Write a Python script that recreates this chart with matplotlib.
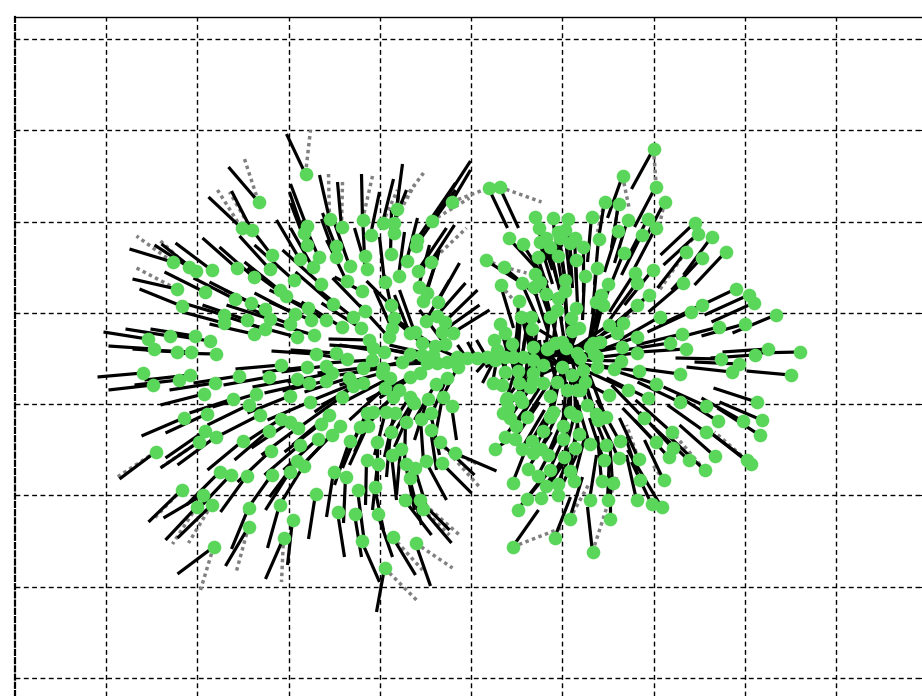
import matplotlib
matplotlib.use("Agg")
import matplotlib.pyplot as plt
from matplotlib.collections import LineCollection

# --- Input data (image pixels) ------------------------------------------
grid_x = [106, 197, 289, 380, 471, 562, 654, 745, 836]
grid_y = [39, 130, 222, 313, 404, 495, 587, 678]

# each row: node x, node y, end of its black edge x, y
upper_left = [
    (259,202,229,167),(306,174,287,134),(242,228,209,197),(252,230,232,191),(272,255,249,225),
    (270,269,240,236),(330,219,320,175),(342,227,338,182),(363,220,362,174),(383,223,394,179),
    (397,209,403,164),(394,223,407,190),(394,233,399,195),(371,235,380,192),(307,226,291,184),
    (304,233,290,192),(307,245,291,203),(336,246,323,213),(336,257,322,219),(319,257,303,220),
    (300,259,277,220),(313,267,291,228),(365,256,363,215),(367,269,355,228),(350,266,335,223),
    (391,254,392,210),(407,261,418,218),(417,240,456,183),(416,246,456,190),(432,221,471,161),
    (452,202,471,170),(431,262,455,225),(418,271,447,228),(399,276,405,232),(385,282,380,237),
    (347,281,327,240),(294,280,255,245),(321,284,283,250),(362,291,335,277),(333,304,296,272),
    (280,290,245,262),(286,296,248,268),(254,277,220,247),(237,268,203,238),(212,270,176,243),
    (196,271,162,244),(189,267,155,245),(173,262,130,249),(177,289,133,279),(205,292,165,272),
    (182,306,140,289),(235,299,194,278),(251,303,210,282),(265,309,225,290),(270,319,227,305),
    (265,329,222,315),(224,315,180,302),(224,323,183,312),(247,320,203,305),(254,334,210,324),
    (295,314,255,293),(308,308,270,290),(311,320,270,302),(326,320,286,298),(290,324,248,308),
    (297,337,252,325),(314,335,270,322),(342,327,302,302),(353,317,318,289),(365,311,333,278),
    (361,328,322,303),(391,305,367,281),(394,318,385,275),(392,328,375,290),(389,337,360,305),
    (410,333,395,295),(415,332,400,290),(419,287,430,245),(427,293,440,250),(423,301,438,258),
    (438,302,460,263),(426,321,450,280),(437,316,466,283),(445,322,478,290),(442,332,480,305),
    (453,333,490,310),(422,343,395,320),(435,346,400,322),(445,344,420,310),(369,340,329,339),
    (373,348,330,345),(384,352,340,345),(410,354,367,345),(316,354,272,351),(336,353,291,350),
    (347,359,302,352),
]
lower_left = [
    (372,360,327,363),(363,368,318,373),(383,368,340,375),(382,373,340,385),(402,362,357,372),
    (420,373,380,398),(410,377,367,400),(148,339,104,332),(170,336,126,329),(195,336,151,329),
    (210,341,166,334),(154,349,109,346),(177,352,133,349),(191,352,147,350),(216,354,172,353),
    (143,373,98,377),(153,385,109,390),(179,380,135,385),(190,375,145,380),(215,383,170,390),
    (239,376,194,383),(269,377,224,385),(281,365,236,369),(307,367,263,372),(326,366,282,372),
    (332,373,288,382),(297,379,253,387),(309,383,265,393),(326,381,283,391),(349,378,305,392),
    (353,384,311,401),(363,383,322,405),(390,378,348,400),(436,384,415,420),(447,378,430,420),
    (204,394,161,405),(233,399,190,413),(256,394,213,407),(290,396,248,413),(310,402,268,420),
    (249,405,208,425),(184,418,142,436),(207,414,166,433),(260,415,219,436),(342,397,303,425),
    (353,386,315,412),(385,388,350,420),(399,390,368,425),(393,397,358,430),(410,397,385,436),
    (414,403,395,447),(428,399,415,440),(443,397,435,440),(452,406,457,440),(329,415,293,445),
    (321,424,285,452),(340,426,308,460),(332,435,300,468),(318,439,284,470),(300,445,265,475),
    (281,419,243,444),(290,422,252,448),(298,428,262,455),(269,431,235,460),(243,441,208,470),
    (271,451,238,482),(205,431,166,458),(216,437,178,465),(199,442,161,468),(156,452,120,479),
    (220,472,187,505),(231,475,198,510),(247,476,221,512),(272,475,245,513),(290,472,266,510),
    (297,461,270,497),(304,466,280,505),(182,490,149,522),(203,495,164,518),(197,507,166,540),
    (212,505,178,538),(249,508,232,549),(249,527,226,566),(214,547,178,574),(280,505,268,548),
    (284,538,266,579),(293,520,288,565),(316,494,309,539),(334,472,327,517),(346,477,344,523),
    (338,512,345,557),(358,490,365,543),(355,514,362,557),(362,541,380,582),(378,514,393,557),
    (375,487,384,530),(367,460,366,505),(378,464,373,510),(350,441,335,485),(360,427,343,468),
    (368,426,350,465),(367,413,348,455),(373,412,355,452),(386,412,375,455),(395,413,385,457),
    (406,422,405,465),(391,432,387,477),(421,419,424,462),(431,413,440,455),(431,430,437,470),
    (377,442,377,487),(401,449,397,495),(392,455,397,500),(406,464,415,510),(415,468,428,510),
    (426,461,447,500),(410,478,422,525),(440,442,475,475),(455,453,497,471),(442,463,472,493),
    (405,500,432,535),(420,500,450,530),(423,509,452,543),(393,537,416,575),(416,543,431,586),
    (385,568,377,612),
]
center = [
    (422,355,380,348),(433,355,390,345),(427,363,385,365),(437,363,395,358),(447,362,405,352),
    (458,367,440,403),(457,357,418,340),(467,358,458,345),(477,358,468,342),(487,357,477,340),
    (495,360,483,383),(497,350,477,372),(505,357,486,367),(513,357,520,320),(523,357,528,318),
    (533,360,522,315),(505,372,510,330),(543,365,525,325),(562,367,535,340),(507,398,520,358),
    (518,371,518,330),(577,353,540,330),(572,375,535,350),(577,390,560,350),(522,402,528,360),
    (519,397,522,353),(533,380,535,338),(583,370,550,340),(597,357,555,352),(597,367,558,360),
    (413,402,390,440),(532,329,533,360),(548,348,525,385),
]
upper_right = [
    (654,149,632,189),(623,176,608,218),(656,187,635,227),(665,202,645,240),(605,202,598,245),
    (619,204,612,248),(489,188,508,228),(500,187,519,228),(535,217,548,260),(553,218,560,262),
    (568,219,572,264),(592,217,588,262),(539,228,553,270),(648,219,628,258),(628,220,615,263),
    (656,228,635,268),(642,235,622,275),(618,231,605,272),(599,239,595,285),(558,232,565,277),
    (565,230,570,275),(560,238,566,283),(575,238,577,283),(570,243,573,288),(583,247,583,292),
    (509,238,540,272),(523,244,548,283),(546,238,558,282),(540,242,553,284),(550,247,560,290),
    (624,253,607,295),(558,256,565,300),(538,257,552,300),(576,260,578,305),(486,260,525,285),
    (504,267,538,296),(597,268,593,313),(653,270,625,305),(635,273,610,312),(637,283,610,320),
    (683,283,649,312),(695,223,661,255),(698,234,664,265),(712,237,684,275),(726,252,695,285),
    (702,258,672,290),(686,252,658,288),(535,274,550,316),(522,283,540,323),(540,282,553,322),
    (534,287,548,330),(501,285,514,328),(565,280,568,325),(565,291,568,335),(585,276,583,320),
    (608,284,595,328),(546,294,557,337),(558,298,565,342),(519,301,517,345),(601,295,592,338),
    (596,302,589,345),(603,305,593,345),(649,295,615,325),(637,305,602,335),(576,308,570,352),
    (557,310,553,350),(550,317,545,360),(571,318,566,360),(521,317,518,360),(531,317,530,360),
    (500,324,510,360),(505,333,515,372),(736,289,692,310),(749,295,705,315),
    (754,303,712,322),(776,315,733,333),(702,305,660,325),(691,312,648,332),(660,317,620,340),
    (745,324,702,336),(719,327,677,338),(682,334,637,345),(670,343,625,350),(623,323,585,345),
    (609,325,572,350),(617,333,575,352),(637,337,595,352),(622,347,578,355),(637,353,592,358),
    (686,349,640,352),(579,328,565,365),(572,331,560,372),(600,342,555,352),(593,343,548,352),
    (590,347,547,358),(566,348,530,370),(562,342,525,372),(555,343,530,380),(547,349,528,388),
    (533,347,530,390),(494,340,510,380),(512,344,520,388),(768,349,723,352),
    (800,352,755,353),(755,355,711,358),(721,359,676,358),(739,364,695,362),
]
lower_right = [
    (580,358,540,375),(621,361,577,360),(594,354,550,365),(791,375,747,371),(732,372,687,367),
    (680,374,636,368),(656,384,613,370),(639,371,595,365),(614,369,570,362),(628,390,585,370),
    (648,398,607,378),(609,395,570,375),(680,402,638,382),(706,406,664,387),(718,421,677,395),
    (743,421,702,398),(757,402,714,388),(762,420,720,402),(760,435,718,408),(644,418,612,385),
    (672,432,636,400),(656,442,623,408),(706,432,668,405),(715,456,680,425),(747,460,710,432),
    (751,464,714,435),(673,448,640,412),(669,457,635,420),(689,460,652,425),(705,470,668,435),
    (639,459,620,418),(620,441,597,400),(619,458,600,418),(606,445,590,405),(604,460,590,418),
    (590,444,577,400),(664,480,645,440),(640,480,626,437),(613,483,610,440),(602,481,598,436),
    (590,500,597,455),(608,500,610,455),(637,500,627,455),(652,504,632,462),(662,507,628,450),
    (610,519,610,475),(593,552,588,507),(555,538,571,497),(513,547,539,510),(518,510,545,475),
    (570,519,583,477),(527,499,555,465),(541,498,566,460),(558,495,577,455),(546,486,570,448),
    (558,484,575,445),(574,481,585,438),(570,471,577,428),(513,483,528,445),(528,469,552,432),
    (538,476,558,438),(550,470,568,430),(564,457,575,415),(575,448,580,405),(563,439,570,395),
    (579,434,575,390),(563,426,567,382),(548,455,565,415),(541,449,560,410),(533,453,552,415),
    (532,441,555,402),(522,449,545,410),(515,439,540,402),(505,437,532,400),(495,449,517,435),
    (543,431,557,390),(527,417,550,382),(516,426,540,388),(506,400,530,368),(508,408,533,372),
    (503,413,530,378),(510,418,535,382),(550,396,560,355),
    (553,412,562,370),(550,417,558,375),(570,412,570,368),(576,416,575,372),(587,405,578,362),
    (596,414,582,370),(606,417,590,375),(598,420,583,378),(567,390,560,348),(580,390,570,350),
    (585,382,572,342),(557,382,545,340),(533,373,537,330),(519,383,525,340),
    (530,387,530,342),(543,383,540,340),(493,383,500,345),(502,385,508,342),
]

# visible dotted grey edges: x0, y0, x1, y1
grey_left = [
    (259,202,245,159),(306,174,311,130),(242,228,218,190),(252,230,230,192),(173,262,137,236),
    (189,267,160,240),(177,289,137,268),(330,219,329,174),(342,227,343,182),(363,220,373,176),
    (383,223,398,190),(397,209,424,173),(394,223,415,185),(452,202,489,188),(432,221,470,198),
    (431,262,467,228),(156,452,118,477),(199,442,162,467),(182,490,155,518),(197,507,173,544),
    (212,505,189,543),(249,527,237,571),(214,547,201,590),(284,538,282,582),(385,568,417,600),
    (416,543,453,568),(393,537,423,570),(420,500,460,535),(423,509,450,535),(455,453,480,465),
    (440,442,480,487),
]
grey_right = [
    (500,187,542,202),(654,149,657,190),(623,176,630,210),(665,202,660,225),(619,204,612,250),
    (605,202,598,232),(698,234,680,253),(686,252,660,290),(504,267,527,273),(486,260,504,267),
    (501,285,520,307),(649,295,625,320),(513,547,562,528),(570,519,590,483),(593,552,617,477),
    (664,480,652,463),(639,459,627,425),(705,470,677,437),(747,460,715,432),
]

# --- Draw ---------------------------------------------------------------
edges = upper_left + lower_left + center + upper_right + lower_right
node_x = [row[0] for row in edges]
node_y = [row[1] for row in edges]
black_segments = [[(row[0], row[1]), (row[2], row[3])] for row in edges]
grey_segments = [[(row[0], row[1]), (row[2], row[3])] for row in grey_left + grey_right]

fig = plt.figure(figsize=(9.22, 6.96), dpi=100)
ax = fig.add_axes([15 / 922, 0, 907 / 922, 679 / 696])
ax.set_xlim(15.5, 922.5)
ax.set_ylim(696, 17)

ax.set_xticks(grid_x)
ax.set_yticks(grid_y)
ax.grid(True, color="black", linestyle=(0, (3.5, 2.5)), linewidth=1.0)
ax.set_axisbelow(True)
ax.tick_params(left=False, bottom=False, right=True, direction="in", length=2.5,
               labelleft=False, labelbottom=False)
ax.spines["right"].set_visible(False)
ax.spines["bottom"].set_visible(False)
ax.spines["left"].set_linestyle((0, (2.2, 1.5)))
ax.spines["left"].set_linewidth(1.6)
ax.spines["top"].set_linewidth(1.0)

ax.add_collection(LineCollection(grey_segments, colors="#808080", linewidths=2.5,
                                 linestyles=[(0, (1.0, 1.0))], zorder=2))
ax.add_collection(LineCollection(black_segments, colors="black", linewidths=2.3, zorder=3))
ax.scatter(node_x, node_y, s=96, color="#5AD65B", linewidths=0, zorder=4)

fig.savefig("out.png", dpi=100)
